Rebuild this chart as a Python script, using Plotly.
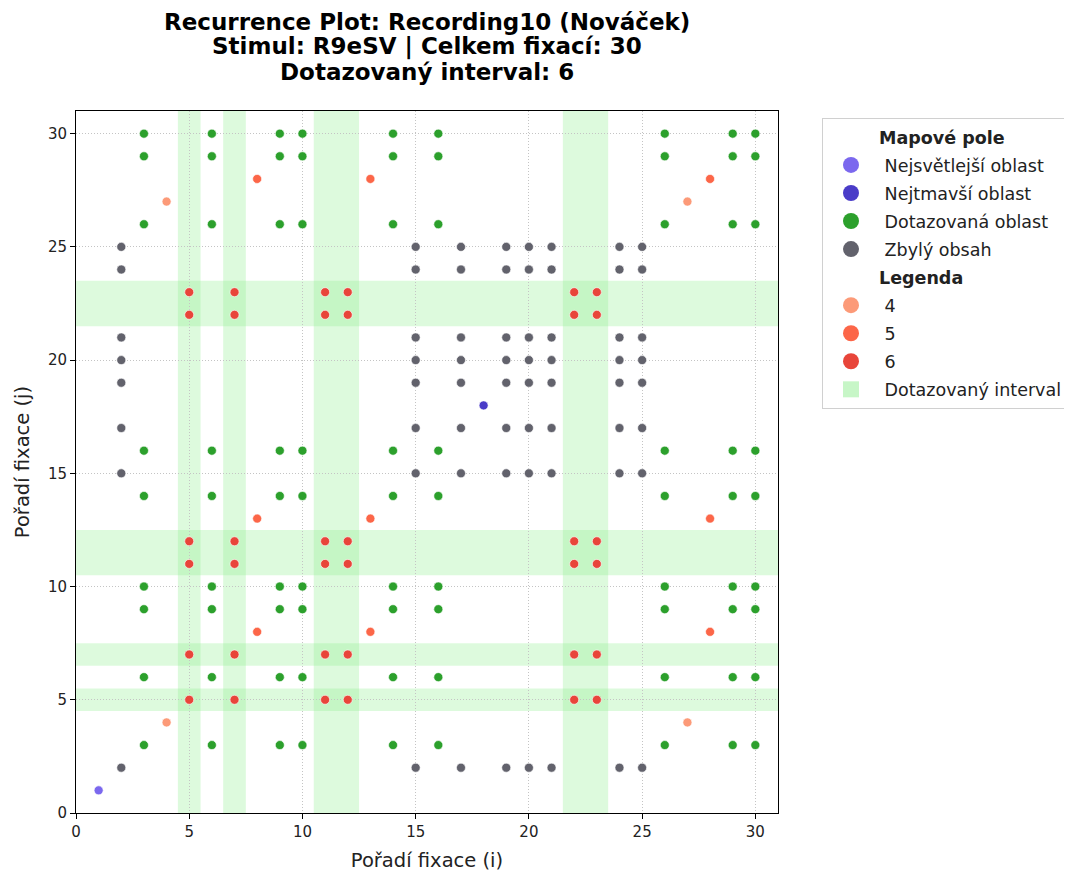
import plotly.graph_objects as go

# ---- data ----
fixations = list(range(1, 31))
fixation_aoi = [
    "Nejsvětlejší oblast", "Zbylý obsah", "Dotazovaná oblast", "4", "6",
    "Dotazovaná oblast", "6", "5", "Dotazovaná oblast", "Dotazovaná oblast",
    "6", "6", "5", "Dotazovaná oblast", "Zbylý obsah",
    "Dotazovaná oblast", "Zbylý obsah", "Nejtmavší oblast", "Zbylý obsah", "Zbylý obsah",
    "Zbylý obsah", "6", "6", "Zbylý obsah", "Zbylý obsah",
    "Dotazovaná oblast", "4", "5", "Dotazovaná oblast", "Dotazovaná oblast",
]
interval_fixations = [5, 7, 11, 12, 22, 23]

map_group = ["Nejsvětlejší oblast", "Nejtmavší oblast", "Dotazovaná oblast", "Zbylý obsah"]
legend_group = ["4", "5", "6"]
aoi_colors = {
    "Nejsvětlejší oblast": "#7b68ee",
    "Nejtmavší oblast": "#4a3cc8",
    "Dotazovaná oblast": "#2ca02c",
    "Zbylý obsah": "#62626c",
    "4": "#fc9a78",
    "5": "#fc6648",
    "6": "#e8453a",
}
tick_vals = [0, 5, 10, 15, 20, 25, 30]

title_lines = [
    "Recurrence Plot: Recording10 (Nováček)",
    "Stimul: R9eSV | Celkem fixací: 30",
    "Dotazovaný interval: 6",
]

FONT = "DejaVu Sans"
PLOT_H = 702

fig = go.Figure()

# recurrence points: (i, j) where both fixations are in the same AOI
for name in map_group + legend_group:
    xs, ys = [], []
    for i, ai in zip(fixations, fixation_aoi):
        for j, aj in zip(fixations, fixation_aoi):
            if ai == aj == name:
                xs.append(i)
                ys.append(j)
    fig.add_trace(go.Scatter(
        x=xs, y=ys, mode="markers", showlegend=False,
        marker=dict(size=9, color=aoi_colors[name], line=dict(color="white", width=0.6)),
        hoverinfo="x+y",
    ))

# interval bands (contiguous runs)
runs = []
for f in interval_fixations:
    if runs and f == runs[-1][1] + 1:
        runs[-1][1] = f
    else:
        runs.append([f, f])
for a, b in runs:
    fig.add_shape(type="rect", xref="x", yref="paper", x0=a - 0.5, x1=b + 0.5, y0=0, y1=1,
                  fillcolor="rgba(144,238,144,0.3)", line_width=0, layer="below")
    fig.add_shape(type="rect", xref="paper", yref="y", x0=0, x1=1, y0=a - 0.5, y1=b + 0.5,
                  fillcolor="rgba(144,238,144,0.3)", line_width=0, layer="below")

# legend entries (each in its own group so a small gap can be set between rows)
counter = [0]

def legend_entry(name, color, symbol="circle"):
    counter[0] += 1
    fig.add_trace(go.Scatter(x=[None], y=[None], mode="markers", name=name,
                             legendgroup=f"g{counter[0]}",
                             marker=dict(size=16, color=color, symbol=symbol)))

legend_entry("<b>Mapové pole</b>", "rgba(0,0,0,0)")
for n in map_group:
    legend_entry("\u00a0" + n, aoi_colors[n])
legend_entry("<b>Legenda</b>", "rgba(0,0,0,0)")
for n in legend_group:
    legend_entry("\u00a0" + n, aoi_colors[n])
legend_entry("\u00a0Dotazovaný interval", "rgba(144,238,144,0.5)", "square")

# title lines as annotations (centers 89, 64, 39 px above the plot)
for k, line in enumerate(title_lines):
    fig.add_annotation(text=f"<b>{line}</b>", xref="paper", yref="paper",
                       x=0.5, y=1 + (89 - 25 * k) / PLOT_H, xanchor="center", yanchor="middle",
                       showarrow=False, font=dict(family=FONT, size=23, color="black"))

axis_common = dict(
    range=[0, 31], tickvals=tick_vals, ticks="outside", ticklen=5, tickwidth=1,
    tickcolor="black", showline=True, linecolor="black", linewidth=1, mirror=True,
    showgrid=True, gridcolor="#c4c4c4", griddash="1px,2px", gridwidth=0.8, zeroline=False,
    tickfont=dict(family=FONT, size=15, color="#222"),
)

# page body has an 8px margin; figure sized to fill the rest of the window
fig.update_layout(
    width=1064, height=864,
    margin=dict(l=68, r=294, t=103, b=59, autoexpand=False),
    paper_bgcolor="white", plot_bgcolor="white",
    xaxis=dict(axis_common, title=dict(text="Pořadí fixace (i)", standoff=14,
                                       font=dict(family=FONT, size=19.5, color="#222"))),
    yaxis=dict(axis_common, title=dict(text="Pořadí fixace (j)", standoff=13,
                                       font=dict(family=FONT, size=19.5, color="#222"))),
    legend=dict(x=(822 - 76) / 702, y=1 - 7 / PLOT_H, xanchor="left", yanchor="top",
                xref="paper", yref="paper",
                bordercolor="#d0d0d0", borderwidth=1, bgcolor="white",
                font=dict(family=FONT, size=17.5, color="#222"), traceorder="grouped",
                tracegroupgap=2.3, itemwidth=46),
    showlegend=True,
)

fig.write_html("out.html")
